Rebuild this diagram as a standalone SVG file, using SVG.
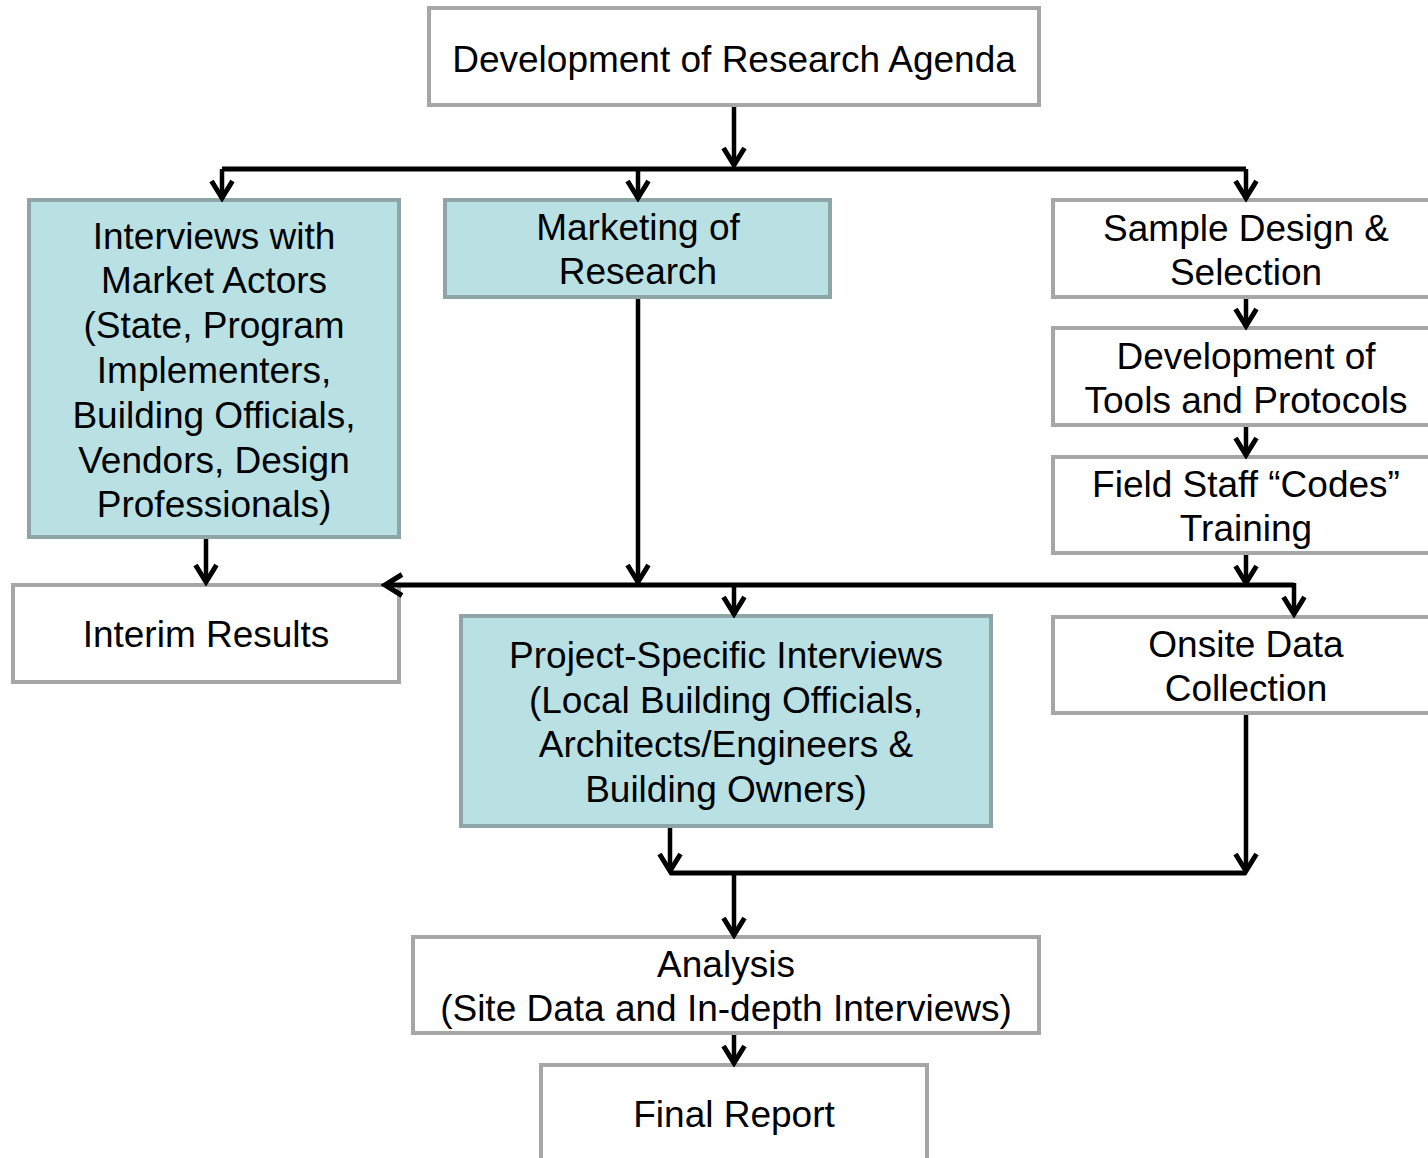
<svg xmlns="http://www.w3.org/2000/svg" width="1428" height="1158" viewBox="0 0 1428 1158">
<style>
.w{fill:#ffffff;stroke:#a6a6a6;stroke-width:4}
.t{fill:#b9e0e3;stroke:#8ea5a7;stroke-width:4}
text{font-family:"Liberation Sans",Arial,sans-serif;font-size:37px;fill:#000;text-anchor:middle}
.c{fill:none;stroke:#000;stroke-width:4.5}
.h{fill:none;stroke:#000;stroke-width:5}
</style>
<defs>
<marker id="a" markerUnits="userSpaceOnUse" viewBox="-22 -14 26 28" markerWidth="26" markerHeight="28" refX="0" refY="0" orient="auto">
<path d="M-17,-10.5 L0,0 L-17,10.5" fill="none" stroke="#000" stroke-width="5"/>
</marker>
</defs>
<rect width="1428" height="1158" fill="#fff"/>
<g id="research-agenda">
<rect class="w" x="429" y="8" width="610" height="97"/>
<text x="734" y="72">Development of Research Agenda</text>
</g>
<g id="market-actors">
<rect class="t" x="29" y="200" width="370" height="337"/>
<text x="214" y="249">Interviews with</text>
<text x="214" y="293">Market Actors</text>
<text x="214" y="338">(State, Program</text>
<text x="214" y="383">Implementers,</text>
<text x="214" y="428">Building Officials,</text>
<text x="214" y="473">Vendors, Design</text>
<text x="214" y="517">Professionals)</text>
</g>
<g id="marketing">
<rect class="t" x="445" y="200" width="385" height="97"/>
<text x="638" y="240">Marketing of</text>
<text x="638" y="284">Research</text>
</g>
<g id="sample-design">
<rect class="w" x="1053" y="200" width="390" height="97"/>
<text x="1246" y="241">Sample Design &amp;</text>
<text x="1246" y="285">Selection</text>
</g>
<g id="tools-protocols">
<rect class="w" x="1053" y="328" width="390" height="97"/>
<text x="1246" y="369">Development of</text>
<text x="1246" y="413">Tools and Protocols</text>
</g>
<g id="field-staff">
<rect class="w" x="1053" y="457" width="390" height="96"/>
<text x="1246" y="497">Field Staff “Codes”</text>
<text x="1246" y="541">Training</text>
</g>
<g id="interim-results">
<rect class="w" x="13" y="585" width="386" height="97"/>
<text x="206" y="647">Interim Results</text>
</g>
<g id="project-interviews">
<rect class="t" x="461" y="616" width="530" height="210"/>
<text x="726" y="668">Project-Specific Interviews</text>
<text x="726" y="713">(Local Building Officials,</text>
<text x="726" y="757">Architects/Engineers &amp;</text>
<text x="726" y="802">Building Owners)</text>
</g>
<g id="onsite">
<rect class="w" x="1053" y="617" width="390" height="96"/>
<text x="1246" y="657">Onsite Data</text>
<text x="1246" y="701">Collection</text>
</g>
<g id="analysis">
<rect class="w" x="413" y="937" width="626" height="96"/>
<text x="726" y="977">Analysis</text>
<text x="726" y="1021">(Site Data and In-depth Interviews)</text>
</g>
<g id="final-report">
<rect class="w" x="541" y="1065" width="386" height="110"/>
<text x="734" y="1127">Final Report</text>
</g>
<g id="connectors">
<path class="c" d="M734,107 V165" marker-end="url(#a)"/>
<path class="h" d="M222,169 H1246"/>
<path class="c" d="M222,169 V198" marker-end="url(#a)"/>
<path class="c" d="M638,169 V198" marker-end="url(#a)"/>
<path class="c" d="M1246,169 V198" marker-end="url(#a)"/>
<path class="c" d="M1246,299 V326" marker-end="url(#a)"/>
<path class="c" d="M1246,427 V455" marker-end="url(#a)"/>
<path class="c" d="M1246,555 V583" marker-end="url(#a)"/>
<path class="c" d="M638,299 V582" marker-end="url(#a)"/>
<path class="c" d="M206,539 V582" marker-end="url(#a)"/>
<path class="h" d="M1294,585 H385" marker-end="url(#a)"/>
<path class="c" d="M1294,583 V614" marker-end="url(#a)"/>
<path class="c" d="M734,585 V614" marker-end="url(#a)"/>
<path class="c" d="M670,828 V871" marker-end="url(#a)"/>
<path class="c" d="M1246,715 V871" marker-end="url(#a)"/>
<path class="h" d="M670,873 H1246"/>
<path class="c" d="M734,873 V935" marker-end="url(#a)"/>
<path class="c" d="M734,1035 V1063" marker-end="url(#a)"/>
</g>
</svg>
